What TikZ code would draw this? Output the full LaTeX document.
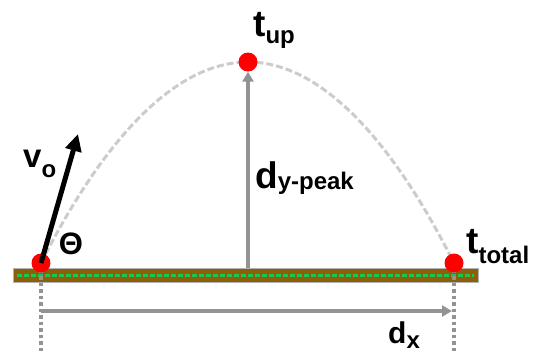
\documentclass[tikz,border=0pt]{standalone}
\usepackage{fontspec}
\setmainfont{Liberation Sans}
\usetikzlibrary{arrows.meta, positioning}

\newcommand{\lowpart}[2][3pt]{\raisebox{-#1}{\fontsize{24}{24}\selectfont #2}}

\begin{document}
\begin{tikzpicture}[
    x=1pt, y=-1pt,
    >=Triangle,
    dot/.style={circle, fill=red, inner sep=0pt, minimum size=19pt},
    lbl/.style={inner sep=0pt, anchor=base west, font=\fontsize{37}{37}\selectfont\bfseries},
    grayarr/.style={->, line width=4pt, draw=gray!85, >={Triangle[length=10pt, width=11pt]}},
    arc/.style={line width=3pt, draw=gray!40, dash pattern=on 7pt off 3pt},
    dropline/.style={line width=3.5pt, draw=gray!85, dash pattern=on 3.5pt off 3pt},
]
\useasboundingbox (0,0) rectangle (539,356);

% ============ ground ============
\fill[draw=gray!60, fill={rgb,255:red,140;green,95;blue,10}, line width=1pt] (13,268) rectangle (478,282);
\draw[line width=3pt, draw={rgb,255:red,20;green,200;blue,80}, dash pattern=on 5pt off 2pt] (17,275) -- (474,275);

% ============ points ============
\coordinate (launchpt) at (41,263);
\coordinate (peakpt) at (248,62);
\coordinate (landpt) at (454,263);

\draw[arc] (launchpt) parabola bend (peakpt) (landpt);

\coordinate (launchlow) at (41,354);
\coordinate (landlow) at (454,354);
\draw[dropline] (launchpt) -- (launchlow);
\draw[dropline] (landpt) -- (landlow);

\coordinate (peakbase) at (248,268);
\coordinate (dxstart) at (41,311);
\coordinate (dxend) at (452,311);
\coordinate (vtip) at (78,134);

\node[dot] (launch) at (launchpt) {};
\node[dot] (peak) at (peakpt) {};
\node[dot] (landing) at (landpt) {};

% ============ arrows ============
\draw[grayarr] (peakbase) -- (peak.south);
\draw[grayarr] (dxstart) -- (dxend);
\draw[->, line width=5pt, >={Triangle[length=17pt, width=16pt]}] (launch.center) -- (vtip);

% ============ labels ============
\node[lbl, font=\fontsize{33}{33}\selectfont\bfseries] (vlabel) at (23,167) {v\lowpart[10pt]{o}};
\node[lbl, font=\fontsize{31}{31}\selectfont\bfseries, anchor=center] (theta) at (71,244) {Θ};
\node[lbl] (tup) at (253,37) {t\lowpart[6pt]{up}};
\node[lbl] (dypeak) at (255,188) {d\lowpart[1pt]{y-peak}};
\node[lbl] (ttotal) at (466,253) {t\lowpart[10pt]{total}};
\node[lbl, font=\fontsize{30}{30}\selectfont\bfseries] (dx) at (388,343) {d\lowpart[5pt]{x}};

\end{tikzpicture}
\end{document}
